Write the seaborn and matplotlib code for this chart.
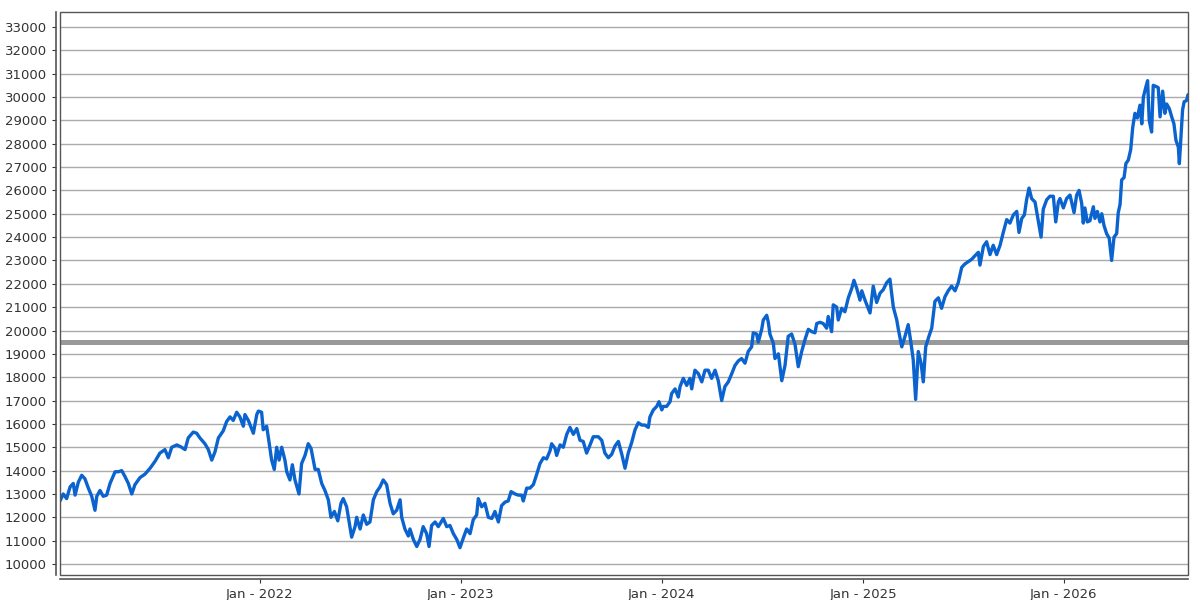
import matplotlib
matplotlib.use("Agg")
import matplotlib.pyplot as plt
import matplotlib.dates as mdates
from matplotlib.patches import Rectangle
import numpy as np
import pandas as pd
import seaborn as sns

# time as decimal years
years = [
    2021.005, 2021.021, 2021.038, 2021.055, 2021.071, 2021.080, 2021.096, 2021.113, 2021.129, 2021.146,
    2021.163, 2021.179, 2021.188, 2021.204, 2021.220, 2021.237, 2021.254, 2021.279, 2021.295, 2021.312,
    2021.328, 2021.345, 2021.362, 2021.378, 2021.403, 2021.428, 2021.453, 2021.478, 2021.502, 2021.527,
    2021.544, 2021.561, 2021.586, 2021.610, 2021.627, 2021.643, 2021.668, 2021.685, 2021.701, 2021.726,
    2021.743, 2021.760, 2021.776, 2021.793, 2021.817, 2021.834, 2021.851, 2021.867, 2021.884, 2021.900,
    2021.917, 2021.925, 2021.942, 2021.967, 2021.984, 2021.992,
    2022.008, 2022.016, 2022.033, 2022.041, 2022.058, 2022.071, 2022.083, 2022.095, 2022.108, 2022.124,
    2022.133, 2022.149, 2022.161, 2022.174, 2022.194, 2022.207, 2022.224, 2022.240, 2022.254, 2022.274,
    2022.290, 2022.307, 2022.323, 2022.340, 2022.353, 2022.370, 2022.387, 2022.403, 2022.414, 2022.431,
    2022.456, 2022.473, 2022.481, 2022.498, 2022.514, 2022.531, 2022.547, 2022.564, 2022.581, 2022.597,
    2022.613, 2022.630, 2022.647, 2022.663, 2022.680, 2022.697, 2022.705, 2022.721, 2022.738, 2022.746,
    2022.763, 2022.780, 2022.796, 2022.812, 2022.829, 2022.841, 2022.854, 2022.871, 2022.887, 2022.912,
    2022.929, 2022.945, 2022.962, 2022.979, 2022.995,
    2023.011, 2023.028, 2023.045, 2023.061, 2023.078, 2023.086, 2023.103, 2023.119, 2023.136, 2023.153,
    2023.169, 2023.186, 2023.202, 2023.219, 2023.235, 2023.249, 2023.269, 2023.285, 2023.302, 2023.310,
    2023.327, 2023.343, 2023.360, 2023.377, 2023.393, 2023.410, 2023.426, 2023.443, 2023.451, 2023.468,
    2023.476, 2023.493, 2023.509, 2023.526, 2023.542, 2023.559, 2023.576, 2023.592, 2023.608, 2023.625,
    2023.642, 2023.658, 2023.683, 2023.700, 2023.716, 2023.733, 2023.750, 2023.766, 2023.783, 2023.800,
    2023.816, 2023.832, 2023.849, 2023.866, 2023.882, 2023.899, 2023.915, 2023.932, 2023.940, 2023.957,
    2023.974, 2023.985, 2023.999,
    2024.006, 2024.023, 2024.040, 2024.048, 2024.065, 2024.081, 2024.090, 2024.106, 2024.123, 2024.139,
    2024.148, 2024.164, 2024.181, 2024.198, 2024.214, 2024.230, 2024.247, 2024.264, 2024.280, 2024.297,
    2024.313, 2024.330, 2024.347, 2024.363, 2024.380, 2024.396, 2024.413, 2024.429, 2024.446, 2024.454,
    2024.471, 2024.479, 2024.496, 2024.504, 2024.521, 2024.529, 2024.537, 2024.554, 2024.562, 2024.579,
    2024.596, 2024.612, 2024.628, 2024.645, 2024.662, 2024.678, 2024.695, 2024.711, 2024.728, 2024.745,
    2024.761, 2024.770, 2024.786, 2024.802, 2024.819, 2024.827, 2024.844, 2024.852, 2024.869, 2024.877,
    2024.894, 2024.910, 2024.927, 2024.944, 2024.955, 2024.969, 2024.985, 2024.994,
    2025.010, 2025.035, 2025.051, 2025.068, 2025.085, 2025.101, 2025.118, 2025.134, 2025.151, 2025.168,
    2025.176, 2025.193, 2025.209, 2025.225, 2025.239, 2025.250, 2025.262, 2025.275, 2025.289, 2025.300,
    2025.312, 2025.328, 2025.342, 2025.358, 2025.375, 2025.391, 2025.408, 2025.424, 2025.441, 2025.458,
    2025.474, 2025.491, 2025.507, 2025.524, 2025.541, 2025.557, 2025.574, 2025.582, 2025.599, 2025.615,
    2025.632, 2025.648, 2025.665, 2025.682, 2025.698, 2025.715, 2025.731, 2025.748, 2025.765, 2025.776,
    2025.790, 2025.803, 2025.814, 2025.826, 2025.839, 2025.856, 2025.869, 2025.886, 2025.897, 2025.914,
    2025.930, 2025.947, 2025.959, 2025.972, 2025.980, 2025.997,
    2026.013, 2026.030, 2026.038, 2026.050, 2026.063, 2026.075, 2026.088, 2026.096, 2026.104, 2026.116,
    2026.129, 2026.146, 2026.154, 2026.166, 2026.179, 2026.188, 2026.199, 2026.212, 2026.225, 2026.237,
    2026.249, 2026.262, 2026.270, 2026.279, 2026.287, 2026.299, 2026.308, 2026.320, 2026.332, 2026.342,
    2026.353, 2026.365, 2026.378, 2026.387, 2026.395, 2026.408, 2026.416, 2026.424, 2026.436, 2026.444,
    2026.458, 2026.469, 2026.478, 2026.491, 2026.502, 2026.511, 2026.524, 2026.536, 2026.547, 2026.557,
    2026.569, 2026.574, 2026.582, 2026.590, 2026.598, 2026.610, 2026.617,
]

values = [
    12700, 13000, 12800, 13300, 13450, 12950, 13500, 13800, 13650, 13250,
    12900, 12300, 12900, 13150, 12900, 12950, 13450, 13950, 13950, 14000,
    13750, 13450, 13000, 13400, 13700, 13850, 14100, 14400, 14750, 14900,
    14550, 15000, 15100, 15000, 14900, 15400, 15650, 15600, 15400, 15150,
    14900, 14450, 14800, 15400, 15700, 16100, 16300, 16150, 16500, 16300,
    15900, 16400, 16150, 15600, 16400, 16550,
    16500, 15750, 15900, 15450, 14450, 14050, 15000, 14450, 15000, 14450,
    13950, 13600, 14250, 13600, 13000, 14300, 14650, 15150, 14950, 14050,
    14050, 13450, 13150, 12750, 12000, 12250, 11850, 12600, 12800, 12450,
    11150, 11600, 12000, 11500, 12100, 11700, 11800, 12750, 13100, 13300,
    13600, 13400, 12600, 12150, 12300, 12750, 12000, 11500, 11200, 11500,
    11050, 10750, 11050, 11600, 11300, 10750, 11650, 11800, 11600, 11950,
    11600, 11650, 11300, 11050, 10700,
    11100, 11500, 11300, 11900, 12100, 12800, 12450, 12600, 12000, 11950,
    12250, 11800, 12500, 12650, 12700, 13100, 13000, 12950, 12950, 12700,
    13250, 13250, 13400, 13850, 14300, 14550, 14500, 14850, 15150, 14950,
    14650, 15100, 15000, 15550, 15850, 15550, 15800, 15300, 15250, 14750,
    15100, 15450, 15450, 15300, 14750, 14550, 14700, 15050, 15250, 14700,
    14100, 14750, 15200, 15750, 16050, 15950, 15950, 15850, 16300, 16600,
    16750, 16950, 16600,
    16750, 16750, 16950, 17300, 17500, 17150, 17600, 17950, 17650, 17950,
    17500, 18300, 18150, 17800, 18300, 18300, 17950, 18300, 17850, 17000,
    17600, 17800, 18150, 18500, 18700, 18800, 18600, 19100, 19300, 19900,
    19850, 19500, 20050, 20450, 20650, 20350, 19850, 19450, 18800, 19000,
    17850, 18500, 19750, 19850, 19400, 18450, 19100, 19600, 20050, 19950,
    19900, 20300, 20350, 20300, 20100, 20600, 19950, 21100, 21000, 20450,
    20950, 20800, 21400, 21800, 22150, 21800, 21300, 21700,
    21300, 20750, 21900, 21200, 21600, 21750, 22050, 22200, 21000, 20450,
    20050, 19300, 19750, 20250, 19450, 18750, 17050, 19100, 18600, 17800,
    19300, 19750, 20100, 21250, 21400, 20950, 21450, 21700, 21900, 21700,
    22050, 22700, 22850, 22950, 23050, 23200, 23350, 22800, 23600, 23800,
    23250, 23650, 23250, 23650, 24200, 24750, 24600, 24950, 25100, 24200,
    24800, 24950, 25600, 26100, 25650, 25500, 24850, 24000, 25200, 25600,
    25750, 25750, 24650, 25500, 25650, 25250,
    25650, 25800, 25500, 25050, 25800, 26000, 25450, 24600, 25250, 24650,
    24700, 25300, 24800, 25100, 24650, 25000, 24500, 24150, 23950, 23000,
    24000, 24150, 25050, 25400, 26450, 26550, 27150, 27300, 27750, 28700,
    29300, 29100, 29650, 28850, 30000, 30450, 30700, 29000, 28500, 30500,
    30450, 30400, 29150, 30250, 29300, 29700, 29500, 29150, 28850, 28150,
    27850, 27150, 28300, 29450, 29800, 29850, 30100,
]

reference_level = 19500
y_ticks = list(range(10000, 34000, 1000))


def to_date(yr):
    return pd.Timestamp("2021-01-01") + pd.to_timedelta((np.asarray(yr) - 2021) * 365.25, unit="D")


df = pd.DataFrame({"date": to_date(years), "value": values})

sns.set_style("white")
plt.rcParams["font.family"] = ["DejaVu Sans"]

fig = plt.figure(figsize=(12, 6), dpi=100)
ax = fig.add_axes([0.05, 0.0417, 0.94, 0.9383])

for y in y_ticks:
    ax.axhline(y, color="#aaaaaa", lw=1.0, zorder=1)
ax.axhline(reference_level, color="#999999", lw=3.6, zorder=2)

sns.lineplot(data=df, x="date", y="value", ax=ax, color="#0b63cf", lw=2.4,
             estimator=None, zorder=3)

ax.set_xlim(to_date(2021.005), to_date(2026.617))
ax.set_ylim(9530, 33640)
ax.set_yticks(y_ticks)
ax.xaxis.set_major_locator(mdates.YearLocator(month=1, day=1))
ax.xaxis.set_major_formatter(mdates.DateFormatter("%b - %Y"))
ax.set_xlabel("")
ax.set_ylabel("")

for lab in ax.get_xticklabels() + ax.get_yticklabels():
    lab.set_fontstyle("italic")
ax.tick_params(axis="both", labelsize=9.5, colors="#333333", length=3, width=0.8,
               direction="out", bottom=True, left=True)

for side in ["top", "right"]:
    ax.spines[side].set_visible(False)
for side in ["left", "bottom"]:
    ax.spines[side].set_position(("outward", 3))
    ax.spines[side].set_color("#555555")
    ax.spines[side].set_linewidth(1.2)

ax.add_patch(Rectangle((0, 0), 1, 1, transform=ax.transAxes, fill=False,
                       edgecolor="#555555", lw=1.0, clip_on=False, zorder=5))

fig.savefig("out.png", dpi=100)
